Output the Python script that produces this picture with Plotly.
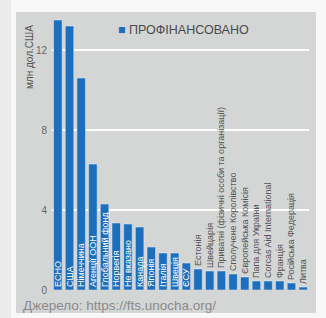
import plotly.graph_objects as go

categories = ["ECHO", "США", "Німеччина", "Агенції ООН", "Глобальний фонд", "Норвегія",
              "Не вказано", "Канада", "Японія", "Італія", "Швеція", "ЄСУ", "Естонія",
              "Швейцарія", "Приватні (фізичні особи та організації)", "Сполучене Королівство",
              "Європейська Комісія", "Папа для України", "Corcas Aid International",
              "Франція", "Російська Федерація", "Литва"]
values = [13.5, 13.2, 10.6, 6.3, 4.3, 3.35, 3.3, 3.15, 2.15, 1.85, 1.85, 1.35, 1.05,
          0.95, 0.95, 0.8, 0.65, 0.45, 0.45, 0.45, 0.35, 0.15]
y_ticks = [0, 4, 8, 12]
series_name = "ПРОФІНАНСОВАНО"
y_title = "млн дол.США"
source = "Джерело: https://fts.unocha.org/"

BLUE = "#1d6fbd"
positions = ["inside" if v >= 1.3 else "outside" for v in values]

fig = go.Figure()
fig.add_trace(go.Bar(
    x=categories, y=values, name=series_name, marker_color=BLUE,
    text=categories, textposition=positions, textangle=-90,
    insidetextanchor="start", constraintext="none", cliponaxis=False,
    insidetextfont=dict(family="Liberation Sans, Arial", size=9, color="white"),
    outsidetextfont=dict(family="Liberation Sans, Arial", size=9, color="#555555"),
    showlegend=False, hoverinfo="x+y",
))

W, H = 326, 318
L, R, T, B = 52, 17, 10, 28
pw, ph = W - L - R, H - T - B

def px_x(p):
    return (p - L) / pw

def px_y(p):
    return (H - B - p) / ph

shapes = [
    dict(type="rect", xref="paper", yref="paper", x0=px_x(0), x1=px_x(11), y0=px_y(H), y1=px_y(0),
         fillcolor="#ebebeb", line_width=0, layer="below"),
    dict(type="rect", xref="paper", yref="paper", x0=px_x(16), x1=px_x(316), y0=px_y(313), y1=px_y(12),
         fillcolor="#d4d6d6", line_width=0, layer="below"),
]

annotations = [
    dict(text=y_title, xref="paper", yref="paper", x=px_x(30), y=px_y(57), textangle=-90,
         showarrow=False, xanchor="center", yanchor="middle",
         font=dict(family="Liberation Sans, Arial", size=10, color="#555555")),
    dict(text=f"<span style='color:{BLUE}'>■</span> {series_name}", xref="paper", yref="paper",
         x=px_x(116), y=px_y(30), showarrow=False, xanchor="left", yanchor="middle",
         font=dict(family="Liberation Sans, Arial", size=12.5, color="#4a4a4a")),
    dict(text=source, xref="paper", yref="paper", x=px_x(21), y=px_y(305), showarrow=False,
         xanchor="left", yanchor="middle",
         font=dict(family="Liberation Sans, Arial", size=13.5, color="#8a8a8a")),
]

fig.update_layout(
    width=W, height=H, margin=dict(l=L, r=R, t=T, b=B, pad=0),
    paper_bgcolor="#f8f8f8", plot_bgcolor="rgba(0,0,0,0)",
    bargap=0.27, shapes=shapes, annotations=annotations, showlegend=False,
    xaxis=dict(showticklabels=False, showgrid=False, zeroline=False, showline=False, ticks=""),
    yaxis=dict(range=[0, 14], tickvals=y_ticks, showgrid=True, gridcolor="white", gridwidth=2,
               zeroline=False, showline=False, ticks="", ticklabelstandoff=4,
               tickfont=dict(family="Liberation Sans, Arial", size=10, color="#666666")),
    font=dict(family="Liberation Sans, Arial"),
)

fig.write_html("out.html", config={"displayModeBar": False},
               post_script="document.body.style.margin='0';document.body.style.overflow='hidden';")
